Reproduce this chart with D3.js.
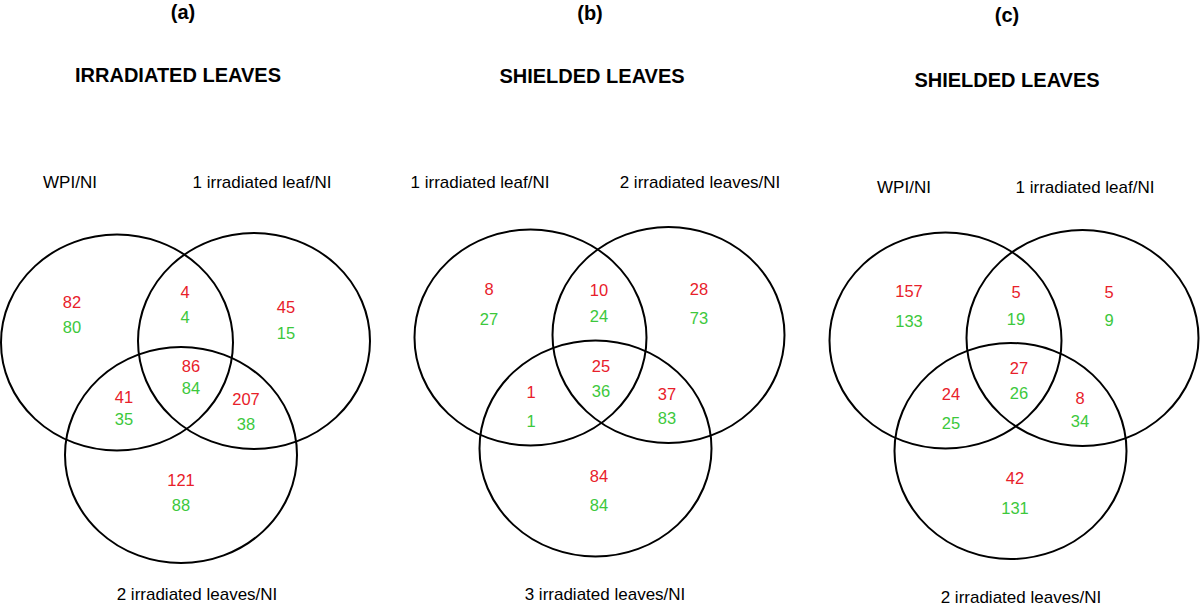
<!DOCTYPE html>
<html>
<head>
<meta charset="utf-8">
<script src="https://cdn.jsdelivr.net/npm/d3@7"></script>
<style>
  body { margin: 0; background: #fff; }
  svg { display: block; font-family: "Liberation Sans", Arial, sans-serif; }
</style>
</head>
<body>
<div id="container"></div>
<script>
let w = 1200;
let h = 609;

// data
let panelTags = ["(a)", "(b)", "(c)"];
let panelTitles = ["IRRADIATED LEAVES", "SHIELDED LEAVES", "SHIELDED LEAVES"];
let setNames = [
  ["WPI/NI", "1 irradiated leaf/NI", "2 irradiated leaves/NI"],
  ["1 irradiated leaf/NI", "2 irradiated leaves/NI", "3 irradiated leaves/NI"],
  ["WPI/NI", "1 irradiated leaf/NI", "2 irradiated leaves/NI"]
];
// region order: A only, A&B, B only, A&C, A&B&C, B&C, C only
let regions = ["A", "AB", "B", "AC", "ABC", "BC", "C"];
let redCounts = [
  [82, 4, 45, 41, 86, 207, 121],
  [8, 10, 28, 1, 25, 37, 84],
  [157, 5, 5, 24, 27, 8, 42]
];
let greenCounts = [
  [80, 4, 15, 35, 84, 38, 88],
  [27, 24, 73, 1, 36, 83, 84],
  [133, 19, 9, 25, 26, 34, 131]
];

// layout (pixel positions per panel)
let circles = [
  [[117, 342.5], [254, 341], [181, 455]],
  [[530.5, 337.5], [668.5, 335], [595.5, 448.5]],
  [[945.5, 340.5], [1082.5, 338], [1010.5, 451]]
];
let rx = 116, ry = 108;
// x, red centre y, green centre y
let anchors = [
  [[72, 302, 327], [185, 292, 317], [286, 307, 333], [124, 397, 419], [191, 366, 388], [246, 399, 424], [181, 480, 505]],
  [[489, 289, 319], [599, 290, 316], [699, 289, 318], [531, 392, 421], [601, 366, 391], [667, 394, 418], [599, 476, 505]],
  [[909, 291, 321], [1016, 292, 319], [1109, 292, 320], [951, 394, 423], [1019, 368, 393], [1080, 398, 421], [1015, 478, 508]]
];
let setLabelPos = [
  [[70, 188], [262, 188], [197, 600]],
  [[480, 188], [700, 188], [605, 600]],
  [[904, 193], [1085, 193], [1021, 603]]
];
let tagPos = [[183, 19], [590, 20], [1007, 22]];
let titlePos = [[178, 82], [592, 83], [1007, 87]];

let red = "#e8202a";
let green = "#3cc83c";

let viz = d3.select("#container")
  .append("svg")
    .attr("width", w)
    .attr("height", h)
;

let panels = viz.selectAll(".panel").data(panelTags).enter()
  .append("g")
    .attr("class", "panel")
;

panels.append("text")
  .attr("x", (d, i) => tagPos[i][0])
  .attr("y", (d, i) => tagPos[i][1])
  .attr("text-anchor", "middle")
  .attr("font-size", 20)
  .attr("font-weight", "bold")
  .text(d => d);

panels.append("text")
  .attr("x", (d, i) => titlePos[i][0])
  .attr("y", (d, i) => titlePos[i][1])
  .attr("text-anchor", "middle")
  .attr("font-size", 20)
  .attr("font-weight", "bold")
  .text((d, i) => panelTitles[i]);

panels.each(function(d, p){
  let g = d3.select(this);

  g.selectAll("ellipse").data(circles[p]).enter()
    .append("ellipse")
      .attr("cx", c => c[0])
      .attr("cy", c => c[1])
      .attr("rx", rx)
      .attr("ry", ry)
      .attr("fill", "none")
      .attr("stroke", "#000")
      .attr("stroke-width", 2);

  g.selectAll(".setname").data(setNames[p]).enter()
    .append("text")
      .attr("class", "setname")
      .attr("x", (s, i) => setLabelPos[p][i][0])
      .attr("y", (s, i) => setLabelPos[p][i][1])
      .attr("text-anchor", "middle")
      .attr("font-size", 17)
      .attr("fill", "#000")
      .text(s => s);

  // red number on top, green under it
  let cells = g.selectAll(".cell").data(regions).enter()
    .append("g")
      .attr("class", "cell");

  cells.append("text")
    .attr("x", (r, i) => anchors[p][i][0])
    .attr("y", (r, i) => anchors[p][i][1] + 6)
    .attr("text-anchor", "middle")
    .attr("font-size", 16.5)
    .attr("fill", red)
    .text((r, i) => redCounts[p][i]);

  cells.append("text")
    .attr("x", (r, i) => anchors[p][i][0])
    .attr("y", (r, i) => anchors[p][i][2] + 6)
    .attr("text-anchor", "middle")
    .attr("font-size", 16.5)
    .attr("fill", green)
    .text((r, i) => greenCounts[p][i]);
});
</script>
</body>
</html>
